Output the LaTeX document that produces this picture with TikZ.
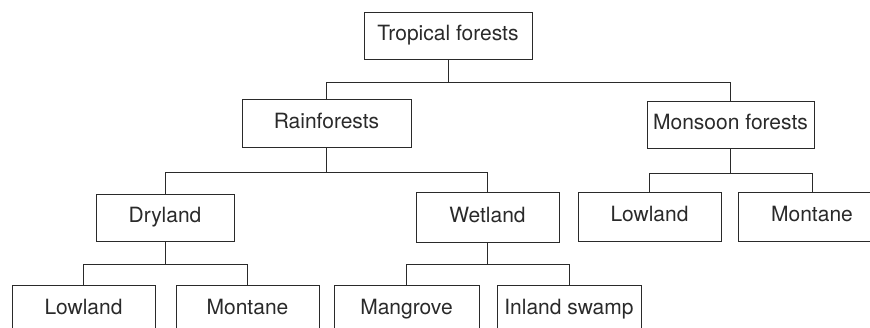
\documentclass[tikz,border=0pt]{standalone}
\usepackage{fontspec}
\setmainfont{TeX Gyre Heros}
\definecolor{ink}{HTML}{2A2A2A}
\begin{document}
\begin{tikzpicture}[x=1pt,y=-1pt,
  box/.style={draw=ink, line width=1pt, rectangle, inner sep=0pt, text=ink,
    font=\fontsize{21}{25}\selectfont, text height=15.2pt, text depth=4.4pt,
    minimum height=48pt},
  link/.style={draw=ink, line width=1pt}]
\useasboundingbox (0,0) rectangle (870,327);
\clip (0,0) rectangle (870,327);
\node[box, minimum width=168pt, minimum height=47pt] (tf) at (448,35.5) {Tropical forests};
\node[box, minimum width=169pt] (rf) at (326.5,123) {Rainforests};
\node[box, minimum width=167pt, minimum height=47pt] (mf) at (730.5,124.5) {Monsoon forests};
\node[box, minimum width=138pt, minimum height=47pt] (dl) at (165,217.5) {Dryland};
\node[box, minimum width=143pt, minimum height=50pt] (wl) at (487.5,217) {Wetland};
\node[box, minimum width=143pt, minimum height=49pt] (lr) at (649.5,216.5) {Lowland};
\node[box, minimum width=148pt, minimum height=49pt] (mr) at (812,216.5) {Montane};
\node[box, minimum width=143pt] (ll) at (83.5,309) {Lowland};
\node[box, minimum width=143pt] (ml) at (247.5,309) {Montane};
\node[box, minimum width=145pt] (mg) at (406.5,309) {Mangrove};
\node[box, minimum width=144pt] (is) at (569,309) {Inland swamp};
% connectors
\draw[link] (tf.south) -- ++(0,23) -| (rf.north);
\draw[link] (tf.south) -- ++(0,23) -| (mf.north);
\draw[link] (rf.south) -- ++(0,25) -| (dl.north);
\draw[link] (rf.south) -- ++(0,25) -| (wl.north);
\draw[link] (mf.south) -- ++(0,25) -| (lr.north);
\draw[link] (mf.south) -- ++(0,25) -| (mr.north);
\draw[link] (dl.south) -- ++(0,23) -| (ll.north);
\draw[link] (dl.south) -- ++(0,23) -| (ml.north);
\draw[link] (wl.south) -- ++(0,22) -| (mg.north);
\draw[link] (wl.south) -- ++(0,22) -| (is.north);
\end{tikzpicture}
\end{document}
